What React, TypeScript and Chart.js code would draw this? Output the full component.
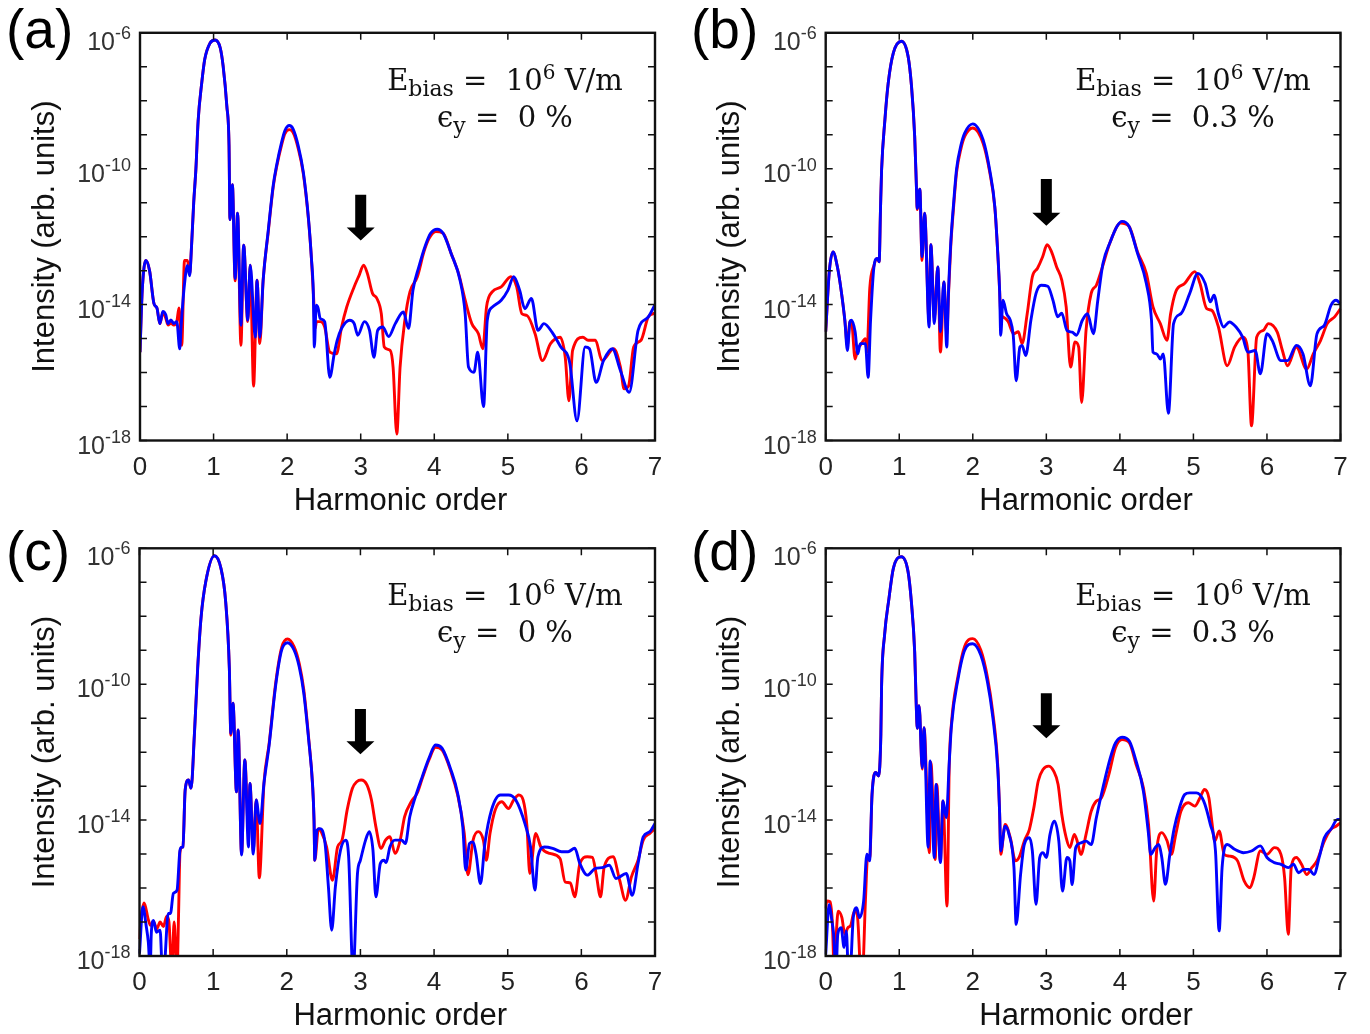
import React, { useEffect, useRef } from 'react';
import { Chart, registerables } from 'chart.js';

Chart.register(...registerables);

// Each point: [harmonic order, log10(intensity in arb. units)]
type P = [number, number];

const harmonicTicks = [0, 1, 2, 3, 4, 5, 6, 7];
const decadeTicks = [-6, -7, -8, -9, -10, -11, -12, -13, -14, -15, -16, -17, -18];
const labeledDecades = [-6, -10, -14, -18];

const aBlue: P[] = [
  [0.0, -15.4], [0.03, -13.6], [0.08, -12.7], [0.13, -13.0], [0.19, -13.97], [0.23, -14.1], [0.27, -14.56], [0.31, -14.2],
  [0.35, -14.3], [0.38, -14.56], [0.42, -14.45], [0.46, -14.56], [0.5, -14.5], [0.54, -15.3], [0.56, -14.6], [0.6, -13.5],
  [0.645, -12.85], [0.675, -13.15], [0.7, -12.3], [0.73, -11.0], [0.76, -10.0], [0.79, -8.6], [0.84, -7.46], [0.88, -6.78],
  [0.95, -6.31], [1.02, -6.21], [1.09, -6.44], [1.13, -6.98], [1.18, -8.15], [1.21, -9.3], [1.223, -11.5], [1.256, -10.47],
  [1.293, -13.23], [1.326, -11.31], [1.372, -14.61], [1.409, -12.25], [1.465, -14.46], [1.498, -12.84], [1.567, -14.96],
  [1.591, -13.28], [1.628, -14.96], [1.674, -13.28], [1.744, -11.8], [1.81, -10.5], [1.857, -9.9], [1.925, -9.22],
  [1.97, -8.88], [2.03, -8.73], [2.08, -8.83], [2.15, -9.32], [2.22, -10.1], [2.29, -11.47], [2.33, -12.64], [2.355, -13.6],
  [2.37, -15.25], [2.395, -14.02], [2.42, -14.1], [2.45, -14.41], [2.51, -14.5], [2.58, -16.14], [2.64, -15.45], [2.68, -15.05],
  [2.74, -14.7], [2.85, -14.46], [2.91, -14.55], [2.96, -14.9], [3.05, -14.5], [3.12, -14.76], [3.18, -15.55], [3.23, -14.76],
  [3.3, -14.66], [3.38, -14.94], [3.47, -14.56], [3.58, -14.22], [3.65, -14.7], [3.71, -13.58], [3.79, -12.89], [3.88, -12.25],
  [3.95, -11.9], [4.04, -11.78], [4.12, -11.9], [4.23, -12.5], [4.35, -13.28], [4.42, -14.27], [4.465, -15.84], [4.54, -15.99],
  [4.59, -15.4], [4.67, -17.0], [4.72, -14.46], [4.79, -14.07], [4.91, -13.87], [5.0, -13.58], [5.08, -13.18], [5.16, -13.58],
  [5.23, -14.12], [5.32, -13.82], [5.41, -14.76], [5.49, -14.56], [5.6, -14.81], [5.72, -15.25], [5.84, -15.7], [5.94, -17.42],
  [6.05, -15.25], [6.11, -15.3], [6.2, -16.29], [6.3, -15.65], [6.42, -15.3], [6.53, -15.94], [6.65, -16.58], [6.77, -14.76],
  [6.91, -14.36], [7.0, -14.0],
];

const aRed: P[] = [
  [0.0, -15.4], [0.03, -13.6], [0.08, -12.7], [0.13, -13.0], [0.19, -13.97], [0.23, -14.1], [0.27, -14.56], [0.31, -14.25],
  [0.35, -14.4], [0.38, -14.6], [0.42, -14.55], [0.46, -14.6], [0.5, -14.5], [0.53, -14.1], [0.567, -15.2], [0.605, -12.7],
  [0.645, -12.7], [0.675, -13.1], [0.7, -12.3], [0.73, -11.0], [0.76, -10.0], [0.79, -8.6], [0.84, -7.46], [0.88, -6.78],
  [0.95, -6.31], [1.02, -6.21], [1.09, -6.44], [1.13, -6.98], [1.18, -8.15], [1.21, -9.3], [1.223, -11.5], [1.256, -10.47],
  [1.293, -13.3], [1.326, -11.31], [1.372, -15.2], [1.409, -12.25], [1.465, -14.5], [1.498, -12.84], [1.544, -16.4],
  [1.591, -13.28], [1.628, -15.15], [1.674, -13.28], [1.744, -11.85], [1.81, -10.55], [1.857, -9.95], [1.925, -9.3],
  [1.97, -8.97], [2.03, -8.85], [2.08, -8.93], [2.15, -9.4], [2.22, -10.15], [2.29, -11.5], [2.33, -12.64], [2.36, -13.8],
  [2.38, -14.7], [2.4, -14.5], [2.45, -14.5], [2.51, -14.66], [2.58, -15.4], [2.67, -15.45], [2.74, -14.66], [2.81, -14.07],
  [2.91, -13.48], [2.98, -13.13], [3.04, -12.84], [3.09, -13.08], [3.16, -13.67], [3.22, -13.82], [3.28, -14.27], [3.32, -15.25],
  [3.4, -15.35], [3.44, -15.84], [3.49, -17.81], [3.535, -15.84], [3.6, -14.46], [3.67, -13.62], [3.77, -13.18], [3.86, -12.44],
  [3.93, -12.05], [4.02, -11.85], [4.12, -11.9], [4.23, -12.5], [4.33, -13.08], [4.42, -13.87], [4.51, -14.56], [4.6, -14.86],
  [4.66, -15.3], [4.71, -14.07], [4.79, -13.62], [4.91, -13.48], [5.04, -13.18], [5.12, -13.48], [5.19, -14.27], [5.26, -14.32],
  [5.37, -14.86], [5.47, -15.65], [5.58, -15.15], [5.71, -14.96], [5.78, -15.55], [5.83, -16.83], [5.88, -15.35], [6.02, -14.96],
  [6.09, -15.05], [6.19, -15.05], [6.28, -15.65], [6.44, -15.3], [6.53, -15.84], [6.58, -16.48], [6.64, -16.4], [6.71, -15.25],
  [6.81, -15.05], [6.91, -14.36], [7.0, -14.25],
];

const bBlue: P[] = [
  [0.0, -14.8], [0.05, -13.0], [0.1, -12.45], [0.16, -12.9], [0.21, -13.58], [0.26, -14.46], [0.295, -15.35], [0.33, -14.5],
  [0.35, -14.46], [0.4, -14.8], [0.436, -15.45], [0.47, -15.15], [0.54, -15.15], [0.577, -16.14], [0.61, -14.46], [0.656, -12.89],
  [0.7, -12.64], [0.727, -12.74], [0.745, -11.2], [0.76, -10.04], [0.805, -8.56], [0.85, -7.48], [0.92, -6.59], [1.03, -6.25],
  [1.12, -6.69], [1.167, -7.58], [1.21, -9.05], [1.235, -10.63], [1.244, -11.17], [1.28, -10.6], [1.31, -12.59], [1.345, -11.31],
  [1.406, -14.66], [1.43, -12.24], [1.477, -14.56], [1.524, -12.89], [1.56, -14.8], [1.608, -13.33], [1.646, -15.25], [1.67, -13.6],
  [1.7, -12.2], [1.74, -11.0], [1.78, -10.0], [1.84, -9.3], [1.89, -8.95], [2.0, -8.68], [2.14, -9.15], [2.23, -10.04],
  [2.3, -11.12], [2.34, -12.5], [2.365, -13.6], [2.38, -14.9], [2.41, -13.87], [2.46, -14.27], [2.51, -14.46], [2.55, -14.9],
  [2.59, -16.24], [2.64, -15.25], [2.67, -15.2], [2.72, -15.5], [2.79, -14.46], [2.86, -13.67], [2.93, -13.43], [3.02, -13.46],
  [3.09, -13.87], [3.155, -14.36], [3.21, -14.25], [3.28, -14.76], [3.35, -14.81], [3.41, -14.9], [3.49, -14.46], [3.56, -14.27],
  [3.64, -14.86], [3.7, -13.87], [3.77, -12.79], [3.87, -12.15], [3.96, -11.7], [4.03, -11.55], [4.125, -11.7], [4.24, -12.49],
  [4.36, -13.38], [4.43, -14.46], [4.45, -15.4], [4.5, -15.45], [4.55, -15.6], [4.59, -15.45], [4.66, -17.2], [4.73, -14.56],
  [4.83, -14.27], [4.95, -13.67], [5.06, -13.08], [5.16, -13.38], [5.23, -13.92], [5.28, -13.72], [5.34, -14.27], [5.41, -14.66],
  [5.49, -14.51], [5.58, -14.66], [5.67, -14.96], [5.74, -15.4], [5.84, -15.35], [5.91, -16.04], [6.0, -14.86], [6.07, -15.05],
  [6.19, -15.65], [6.28, -15.65], [6.4, -15.2], [6.49, -15.45], [6.59, -16.39], [6.68, -14.86], [6.78, -14.61], [6.87, -14.02],
  [6.94, -13.87], [7.0, -13.97],
];

const bRed: P[] = [
  [0.0, -14.8], [0.05, -13.0], [0.1, -12.45], [0.16, -12.9], [0.21, -13.58], [0.26, -14.46], [0.295, -15.2], [0.33, -14.5],
  [0.35, -14.5], [0.4, -15.6], [0.436, -15.3], [0.47, -15.2], [0.54, -15.0], [0.56, -15.4], [0.6, -13.5], [0.656, -12.85],
  [0.7, -12.64], [0.727, -12.74], [0.745, -11.2], [0.76, -10.04], [0.805, -8.56], [0.85, -7.48], [0.92, -6.59], [1.03, -6.25],
  [1.12, -6.69], [1.167, -7.58], [1.21, -9.05], [1.235, -10.63], [1.244, -11.2], [1.28, -10.6], [1.31, -12.7], [1.345, -11.31],
  [1.406, -14.5], [1.43, -12.24], [1.477, -14.4], [1.524, -12.89], [1.56, -15.4], [1.608, -13.33], [1.646, -14.9], [1.67, -13.7],
  [1.7, -12.3], [1.74, -11.1], [1.78, -10.1], [1.84, -9.4], [1.89, -9.05], [2.0, -8.8], [2.14, -9.25], [2.23, -10.1],
  [2.3, -11.15], [2.34, -12.5], [2.365, -13.6], [2.38, -14.27], [2.41, -14.36], [2.48, -14.5], [2.555, -14.86], [2.62, -14.8],
  [2.67, -15.15], [2.74, -14.27], [2.81, -13.18], [2.88, -12.93], [2.95, -12.59], [3.01, -12.24], [3.07, -12.44], [3.14, -12.89],
  [3.21, -13.28], [3.27, -14.07], [3.33, -15.84], [3.39, -15.1], [3.44, -15.25], [3.48, -16.88], [3.54, -14.76], [3.61, -13.67],
  [3.68, -13.43], [3.75, -12.98], [3.87, -12.15], [4.01, -11.6], [4.125, -11.7], [4.24, -12.45], [4.36, -13.08], [4.45, -14.07],
  [4.55, -14.56], [4.64, -15.05], [4.69, -14.27], [4.76, -13.62], [4.88, -13.38], [5.02, -13.03], [5.09, -13.38], [5.18, -14.12],
  [5.25, -14.17], [5.34, -14.66], [5.46, -15.8], [5.56, -15.25], [5.67, -14.96], [5.74, -15.35], [5.79, -17.57], [5.86, -14.96],
  [5.95, -14.76], [6.02, -14.56], [6.14, -14.81], [6.21, -15.35], [6.28, -15.8], [6.4, -15.25], [6.54, -15.9], [6.63, -15.45],
  [6.73, -15.05], [6.82, -14.56], [6.92, -14.36], [7.0, -14.12],
];

const cBlue: P[] = [
  [0.0, -17.93], [0.046, -16.55], [0.09, -17.1], [0.12, -17.6], [0.145, -18.4], [0.16, -17.34], [0.19, -16.95], [0.23, -17.3],
  [0.28, -17.24], [0.31, -18.4], [0.33, -18.4], [0.39, -16.75], [0.42, -16.75], [0.46, -16.16], [0.51, -16.06], [0.55, -14.88],
  [0.575, -14.8], [0.59, -14.79], [0.62, -13.12], [0.665, -12.82], [0.7, -13.06], [0.745, -11.5], [0.79, -9.53], [0.835, -8.06],
  [0.9, -6.98], [1.016, -6.22], [1.106, -6.59], [1.17, -7.57], [1.22, -9.53], [1.24, -11.45], [1.27, -10.56], [1.317, -13.17],
  [1.34, -11.35], [1.386, -15.03], [1.43, -12.23], [1.48, -14.79], [1.5, -12.92], [1.545, -15.0], [1.585, -13.41], [1.636, -14.1],
  [1.69, -12.92], [1.76, -11.8], [1.85, -10.02], [1.93, -9.0], [2.01, -8.78], [2.1, -9.0], [2.17, -9.5], [2.23, -10.25],
  [2.3, -11.7], [2.35, -12.96], [2.37, -14.0], [2.38, -15.18], [2.41, -14.3], [2.45, -14.25], [2.52, -14.69], [2.565, -15.96],
  [2.61, -17.24], [2.66, -15.96], [2.73, -14.88], [2.8, -14.59], [2.84, -15.08], [2.9, -18.5], [2.96, -15.57], [3.0, -15.18],
  [3.07, -14.59], [3.12, -14.34], [3.17, -14.88], [3.21, -16.26], [3.27, -15.28], [3.32, -15.18], [3.35, -15.25], [3.4, -14.79],
  [3.47, -14.59], [3.56, -14.59], [3.61, -14.69], [3.67, -13.9], [3.74, -13.36], [3.84, -12.72], [3.93, -12.18], [4.02, -11.79],
  [4.11, -11.89], [4.23, -12.53], [4.32, -13.21], [4.39, -14.2], [4.43, -15.47], [4.48, -14.69], [4.53, -14.64], [4.57, -15.0],
  [4.63, -15.87], [4.69, -14.69], [4.78, -13.7], [4.9, -13.26], [5.01, -13.26], [5.11, -13.41], [5.24, -14.15], [5.31, -14.79],
  [5.37, -16.06], [5.41, -15.08], [5.5, -14.79], [5.61, -14.83], [5.73, -14.93], [5.82, -14.93], [5.91, -14.83], [5.98, -15.28],
  [6.08, -15.62], [6.19, -15.42], [6.28, -15.4], [6.38, -15.33], [6.47, -15.72], [6.61, -15.57], [6.69, -16.21], [6.77, -15.28],
  [6.84, -14.49], [6.93, -14.34], [7.0, -14.1],
];

const cRed: P[] = [
  [0.0, -17.5], [0.02, -16.9], [0.063, -16.44], [0.12, -16.93], [0.15, -17.1], [0.19, -16.98], [0.235, -17.2], [0.28, -17.0],
  [0.325, -17.13], [0.37, -16.83], [0.4, -17.0], [0.44, -18.5], [0.47, -17.0], [0.51, -18.5], [0.53, -16.83], [0.55, -14.95],
  [0.575, -14.8], [0.59, -14.79], [0.62, -13.12], [0.665, -12.82], [0.7, -13.06], [0.745, -11.5], [0.79, -9.53], [0.835, -8.06],
  [0.9, -6.98], [1.016, -6.22], [1.106, -6.59], [1.17, -7.57], [1.22, -9.53], [1.24, -11.5], [1.27, -10.56], [1.317, -13.17],
  [1.34, -11.35], [1.386, -15.0], [1.43, -12.23], [1.48, -14.3], [1.5, -12.92], [1.545, -14.9], [1.585, -13.41], [1.627, -15.7],
  [1.69, -12.92], [1.76, -11.75], [1.85, -9.95], [1.93, -8.92], [2.01, -8.67], [2.1, -8.9], [2.17, -9.4], [2.23, -10.15],
  [2.3, -11.65], [2.35, -12.96], [2.37, -14.0], [2.38, -15.18], [2.43, -14.25], [2.47, -14.35], [2.54, -14.79], [2.62, -15.77],
  [2.69, -14.79], [2.75, -14.59], [2.82, -13.7], [2.89, -13.07], [2.95, -12.87], [3.01, -12.82], [3.09, -12.97], [3.15, -13.41],
  [3.21, -14.2], [3.28, -14.83], [3.34, -14.59], [3.4, -14.49], [3.47, -14.98], [3.54, -14.59], [3.6, -13.9], [3.69, -13.46],
  [3.77, -13.21], [3.84, -12.77], [3.93, -12.23], [4.02, -11.86], [4.11, -11.94], [4.23, -12.58], [4.32, -13.26], [4.41, -14.39],
  [4.46, -15.61], [4.53, -14.59], [4.6, -14.34], [4.67, -14.6], [4.71, -15.18], [4.76, -14.39], [4.83, -13.7], [4.92, -13.46],
  [5.01, -13.66], [5.08, -13.41], [5.15, -13.26], [5.21, -13.41], [5.26, -14.15], [5.3, -15.57], [5.38, -14.39], [5.45, -14.79],
  [5.57, -14.98], [5.71, -15.13], [5.78, -15.82], [5.85, -15.85], [5.91, -16.26], [5.98, -15.28], [6.08, -15.08], [6.15, -15.1],
  [6.2, -15.57], [6.26, -16.26], [6.31, -15.38], [6.43, -15.08], [6.52, -15.77], [6.6, -16.36], [6.68, -15.67], [6.77, -15.18],
  [6.84, -14.59], [6.93, -14.39], [7.0, -14.25],
];

const dBlue: P[] = [
  [0.0, -17.95], [0.047, -16.48], [0.08, -16.9], [0.108, -17.36], [0.14, -18.5], [0.164, -17.36], [0.21, -17.17], [0.25, -17.75],
  [0.28, -17.26], [0.31, -18.5], [0.33, -18.5], [0.375, -16.87], [0.42, -16.58], [0.46, -16.87], [0.516, -16.38], [0.56, -15.0],
  [0.596, -15.2], [0.63, -13.25], [0.68, -12.6], [0.72, -12.7], [0.75, -11.48], [0.76, -10.04], [0.8, -8.56], [0.86, -7.48],
  [0.92, -6.59], [1.03, -6.25], [1.12, -6.69], [1.165, -7.58], [1.21, -9.05], [1.23, -10.53], [1.245, -11.3], [1.27, -10.63],
  [1.313, -12.46], [1.337, -11.28], [1.393, -14.8], [1.42, -12.26], [1.477, -15.1], [1.5, -12.95], [1.56, -15.25], [1.595, -13.44],
  [1.64, -13.93], [1.68, -12.3], [1.71, -11.22], [1.8, -9.84], [1.89, -9.0], [2.0, -8.81], [2.11, -9.15], [2.2, -9.94],
  [2.27, -10.93], [2.34, -12.5], [2.365, -13.8], [2.38, -14.91], [2.44, -14.18], [2.49, -14.4], [2.56, -15.4], [2.59, -17.07],
  [2.65, -15.6], [2.7, -14.72], [2.77, -14.52], [2.81, -14.91], [2.86, -16.48], [2.91, -15.1], [2.955, -14.96], [3.0, -15.1],
  [3.05, -14.42], [3.11, -14.03], [3.17, -14.62], [3.22, -16.09], [3.28, -15.1], [3.32, -15.2], [3.35, -15.9], [3.4, -14.81],
  [3.47, -14.67], [3.54, -14.62], [3.61, -14.72], [3.68, -13.93], [3.78, -12.95], [3.87, -12.17], [3.94, -11.73], [4.03, -11.56],
  [4.13, -11.68], [4.22, -12.26], [4.32, -13.15], [4.385, -14.32], [4.42, -15.01], [4.48, -14.81], [4.53, -14.72], [4.57, -15.1],
  [4.62, -15.89], [4.68, -15.0], [4.74, -14.23], [4.81, -13.64], [4.88, -13.25], [4.95, -13.2], [5.04, -13.2], [5.14, -13.44],
  [5.23, -14.13], [5.3, -14.91], [5.35, -17.26], [5.39, -15.4], [5.46, -14.72], [5.56, -14.86], [5.68, -14.96], [5.79, -14.91],
  [5.91, -14.76], [6.0, -15.1], [6.1, -15.25], [6.19, -15.3], [6.29, -15.4], [6.36, -15.3], [6.43, -15.55], [6.5, -15.45],
  [6.57, -15.45], [6.64, -15.6], [6.71, -15.1], [6.78, -14.52], [6.87, -14.27], [6.96, -13.98], [7.0, -13.98],
];

const dRed: P[] = [
  [0.0, -16.6], [0.014, -16.38], [0.06, -16.4], [0.09, -17.0], [0.117, -18.5], [0.14, -17.5], [0.17, -16.68], [0.22, -16.87],
  [0.26, -17.36], [0.3, -17.17], [0.34, -17.1], [0.39, -16.68], [0.43, -16.8], [0.48, -18.5], [0.5, -18.5], [0.54, -16.38],
  [0.57, -15.1], [0.6, -15.1], [0.63, -13.25], [0.68, -12.6], [0.72, -12.7], [0.75, -11.48], [0.76, -10.04], [0.8, -8.56],
  [0.86, -7.48], [0.92, -6.59], [1.03, -6.25], [1.12, -6.69], [1.165, -7.58], [1.21, -9.05], [1.23, -10.53], [1.245, -11.3],
  [1.27, -10.63], [1.313, -12.5], [1.337, -11.28], [1.41, -14.96], [1.43, -12.3], [1.49, -15.16], [1.51, -12.95], [1.56, -15.2],
  [1.595, -13.44], [1.65, -16.53], [1.68, -12.4], [1.71, -11.15], [1.8, -9.75], [1.89, -8.88], [2.0, -8.66], [2.11, -9.0],
  [2.2, -9.8], [2.27, -10.8], [2.34, -12.4], [2.365, -13.8], [2.38, -15.01], [2.44, -14.13], [2.51, -14.52], [2.58, -15.2],
  [2.63, -15.1], [2.7, -14.62], [2.77, -14.27], [2.83, -13.64], [2.89, -12.85], [2.955, -12.51], [3.03, -12.41], [3.1, -12.56],
  [3.16, -12.95], [3.21, -13.83], [3.27, -14.52], [3.32, -14.81], [3.38, -14.42], [3.42, -14.62], [3.47, -15.01], [3.54, -14.42],
  [3.61, -13.74], [3.68, -13.44], [3.75, -13.34], [3.85, -12.66], [3.94, -11.87], [4.03, -11.63], [4.13, -11.73], [4.22, -12.36],
  [4.32, -13.05], [4.39, -14.13], [4.46, -16.38], [4.5, -14.91], [4.57, -14.37], [4.64, -14.6], [4.7, -15.01], [4.76, -14.42],
  [4.83, -13.74], [4.93, -13.49], [5.02, -13.59], [5.09, -13.34], [5.15, -13.1], [5.21, -13.34], [5.25, -14.03], [5.29, -14.62],
  [5.35, -14.32], [5.42, -15.01], [5.49, -15.06], [5.6, -15.2], [5.69, -15.79], [5.77, -15.99], [5.82, -15.7], [5.91, -14.91],
  [6.0, -15.01], [6.1, -14.81], [6.19, -15.01], [6.24, -15.7], [6.29, -17.36], [6.33, -15.4], [6.4, -15.1], [6.47, -15.3],
  [6.54, -15.6], [6.61, -15.4], [6.68, -15.2], [6.78, -14.62], [6.87, -14.27], [6.94, -14.18], [7.0, -14.08],
];

const panelLetters = ['(a)', '(b)', '(c)', '(d)'];
const strainValues = ['0', '0.3', '0', '0.3'];
const arrowTopLog = [-10.77, -10.3, -10.73, -10.27];
const arrowTipLog = [-12.11, -11.68, -12.06, -11.59];
const blueSeries = [aBlue, bBlue, cBlue, dBlue];
const redSeries = [aRed, bRed, cRed, dRed];

const layouts = [
  { left: 0, top: 0, pad: { left: 140, right: 30, top: 32.8, bottom: 76.5 }, letterBase: 48, textCx: 505 },
  { left: 685, top: 0, pad: { left: 140.7, right: 29.5, top: 32.8, bottom: 76.5 }, letterBase: 48, textCx: 508 },
  { left: 0, top: 517, pad: { left: 139.5, right: 30, top: 31.3, bottom: 78 }, letterBase: 53, textCx: 505 },
  { left: 685, top: 517, pad: { left: 140.7, right: 29.5, top: 31.3, bottom: 78 }, letterBase: 53, textCx: 508 },
];

const SANS = "'Liberation Sans', Arial, sans-serif";
const SERIF = "'DejaVu Serif', 'Liberation Serif', serif";

type Seg = { t: string; size: number; dy: number };

function drawRich(ctx: CanvasRenderingContext2D, segs: Seg[], cx: number, base: number) {
  const widths = segs.map((s) => {
    ctx.font = `${s.size}px ${SERIF}`;
    return ctx.measureText(s.t).width;
  });
  const total = widths.reduce((a, b) => a + b, 0);
  let x = cx - total / 2;
  ctx.textAlign = 'left';
  ctx.textBaseline = 'alphabetic';
  segs.forEach((s, i) => {
    ctx.font = `${s.size}px ${SERIF}`;
    ctx.fillText(s.t, x, base + s.dy);
    x += widths[i];
  });
}

function makeDecor(idx: number) {
  return {
    id: 'decor' + idx,
    afterDatasetsDraw(chart: any) {
      const ctx: CanvasRenderingContext2D = chart.ctx;
      const area = chart.chartArea;
      const xs = chart.scales.x;
      const ys = chart.scales.y;
      const lay = layouts[idx];
      ctx.save();

      // frame
      ctx.strokeStyle = '#111';
      ctx.lineWidth = 2.4;
      ctx.strokeRect(area.left, area.top, area.right - area.left, area.bottom - area.top);

      // ticks
      ctx.lineWidth = 1.5;
      ctx.beginPath();
      harmonicTicks.forEach((h) => {
        const px = xs.getPixelForValue(h);
        ctx.moveTo(px, area.bottom);
        ctx.lineTo(px, area.bottom - 7);
        ctx.moveTo(px, area.top);
        ctx.lineTo(px, area.top + 7);
      });
      decadeTicks.forEach((d) => {
        const py = ys.getPixelForValue(Math.pow(10, d));
        ctx.moveTo(area.left, py);
        ctx.lineTo(area.left + 7, py);
        ctx.moveTo(area.right, py);
        ctx.lineTo(area.right - 7, py);
      });
      ctx.stroke();

      // x tick labels
      ctx.fillStyle = '#222';
      ctx.font = `26px ${SANS}`;
      ctx.textAlign = 'center';
      ctx.textBaseline = 'alphabetic';
      harmonicTicks.forEach((h) => {
        ctx.fillText(String(h), xs.getPixelForValue(h), area.bottom + 34);
      });

      // y tick labels 10^n
      ctx.fillStyle = '#333';
      labeledDecades.forEach((d, i) => {
        const py = ys.getPixelForValue(Math.pow(10, d));
        const off = i === 0 ? 4 : 0;
        ctx.font = `18px ${SANS}`;
        const sup = String(d);
        const ws = ctx.measureText(sup).width;
        ctx.font = `25px ${SANS}`;
        const wb = ctx.measureText('10').width;
        const right = area.left - 9;
        ctx.textAlign = 'left';
        ctx.fillText('10', right - ws - wb, py + 13 + off);
        ctx.font = `18px ${SANS}`;
        ctx.fillText(sup, right - ws, py + 2 + off);
      });

      // axis titles
      ctx.fillStyle = '#111';
      ctx.font = `31px ${SANS}`;
      ctx.textAlign = 'center';
      ctx.fillText('Harmonic order', (area.left + area.right) / 2 + 3, area.bottom + 69);
      ctx.save();
      ctx.translate(45, (area.top + area.bottom) / 2);
      ctx.rotate(-Math.PI / 2);
      ctx.textBaseline = 'middle';
      ctx.fillText('Intensity (arb. units)', 0, 0);
      ctx.restore();

      // panel letter
      ctx.fillStyle = '#000';
      ctx.font = `55px ${SANS}`;
      ctx.textAlign = 'left';
      ctx.textBaseline = 'alphabetic';
      ctx.fillText(panelLetters[idx], 6, lay.letterBase);

      // annotation
      ctx.fillStyle = '#111';
      const b1 = area.top + 57;
      const b2 = area.top + 94;
      drawRich(ctx, [
        { t: 'E', size: 29, dy: 0 },
        { t: 'bias', size: 22, dy: 6 },
        { t: ' =  10', size: 29, dy: 0 },
        { t: '6', size: 20, dy: -11 },
        { t: ' V/m', size: 29, dy: 0 },
      ], lay.textCx, b1);
      drawRich(ctx, [
        { t: '\u03F5', size: 29, dy: 0 },
        { t: 'y', size: 22, dy: 6 },
        { t: ' =  ' + strainValues[idx] + ' %', size: 29, dy: 0 },
      ], lay.textCx, b2);

      // arrow
      const ax = xs.getPixelForValue(3);
      const yTop = ys.getPixelForValue(Math.pow(10, arrowTopLog[idx]));
      const yTip = ys.getPixelForValue(Math.pow(10, arrowTipLog[idx]));
      const headH = 13;
      ctx.fillStyle = '#000';
      ctx.beginPath();
      ctx.moveTo(ax - 5.5, yTop);
      ctx.lineTo(ax + 5.5, yTop);
      ctx.lineTo(ax + 5.5, yTip - headH);
      ctx.lineTo(ax + 14, yTip - headH);
      ctx.lineTo(ax, yTip);
      ctx.lineTo(ax - 14, yTip - headH);
      ctx.lineTo(ax - 5.5, yTip - headH);
      ctx.closePath();
      ctx.fill();

      ctx.restore();
    },
  };
}

function toPoints(series: P[]) {
  return series.map(([h, e]) => ({ x: h, y: Math.pow(10, e) }));
}

function Panel({ idx }: { idx: number }) {
  const ref = useRef<HTMLCanvasElement>(null);
  useEffect(() => {
    const lay = layouts[idx];
    const chart = new Chart(ref.current as HTMLCanvasElement, {
      type: 'line',
      data: {
        datasets: [
          {
            label: 'blue',
            data: toPoints(blueSeries[idx]),
            borderColor: '#0000ff',
            borderWidth: 2.9,
            pointRadius: 0,
            fill: false,
            cubicInterpolationMode: 'monotone',
            clip: 1,
          },
          {
            label: 'red',
            data: toPoints(redSeries[idx]),
            borderColor: '#ff0000',
            borderWidth: 2.9,
            pointRadius: 0,
            fill: false,
            cubicInterpolationMode: 'monotone',
            clip: 1,
          },
        ],
      },
      options: {
        responsive: false,
        animation: false,
        devicePixelRatio: 1,
        events: [],
        layout: { padding: lay.pad },
        plugins: { legend: { display: false }, tooltip: { enabled: false }, title: { display: false } },
        scales: {
          x: { type: 'linear', min: 0, max: 7, display: false },
          y: { type: 'logarithmic', min: 1e-18, max: 1e-6, display: false },
        },
      } as any,
      plugins: [makeDecor(idx)],
    } as any);
    return () => chart.destroy();
  }, [idx]);
  const lay = layouts[idx];
  return (
    <canvas
      ref={ref}
      width={685}
      height={517}
      style={{ position: 'absolute', left: lay.left, top: lay.top, width: 685, height: 517 }}
    />
  );
}

export default function App() {
  return (
    <div
      style={{
        position: 'absolute',
        left: 0,
        top: 0,
        width: 1370,
        height: 1034,
        overflow: 'hidden',
        background: '#fff',
      }}
    >
      {[0, 1, 2, 3].map((i) => (
        <Panel key={i} idx={i} />
      ))}
    </div>
  );
}
